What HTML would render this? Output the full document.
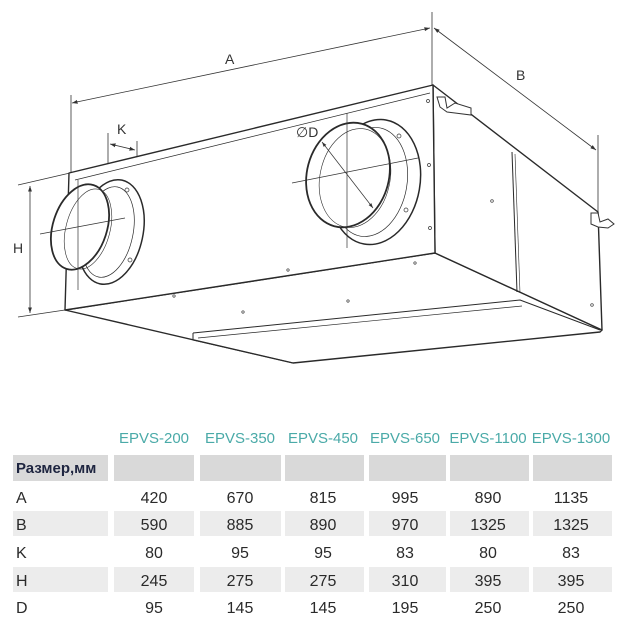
<!DOCTYPE html>
<html><head><meta charset="utf-8"><style>
html,body{margin:0;padding:0;background:#fff;}
svg{display:block;}
text{font-family:"Liberation Sans Narrow","Liberation Sans",sans-serif;}
</style></head><body>
<svg width="630" height="630" viewBox="0 0 630 630" xmlns="http://www.w3.org/2000/svg">
<defs>
<marker id="ar" viewBox="0 0 10 10" refX="10" refY="5" markerWidth="7" markerHeight="7" orient="auto-start-reverse"><path d="M0,1.5 L10,5 L0,8.5 z" fill="#333"/></marker>
</defs>
<g stroke="#333" fill="none" stroke-width="0.8">
<!-- extension lines -->
<line x1="71" y1="95" x2="71" y2="215"/>
<line x1="432" y1="12" x2="432" y2="86"/>
<line x1="598" y1="135" x2="598" y2="230"/>
<line x1="108" y1="133" x2="108" y2="230"/>
<line x1="137" y1="141" x2="137" y2="238"/>
<line x1="18" y1="185" x2="70" y2="173"/>
<line x1="18" y1="317" x2="65" y2="310"/>
<!-- dimension lines -->
<line x1="72" y1="103" x2="430" y2="28" marker-start="url(#ar)" marker-end="url(#ar)"/>
<line x1="434" y1="28" x2="596" y2="150" marker-start="url(#ar)" marker-end="url(#ar)"/>
<line x1="30" y1="186" x2="30" y2="313" marker-start="url(#ar)" marker-end="url(#ar)"/>
<line x1="110" y1="144" x2="135" y2="150" marker-start="url(#ar)" marker-end="url(#ar)"/>
<line x1="322" y1="142" x2="373" y2="208" marker-start="url(#ar)" marker-end="url(#ar)"/>
<line x1="300" y1="140" x2="322" y2="136"/>
</g>
<g stroke="#2a2a2a" fill="#fff" stroke-width="1.4" stroke-linejoin="round">
<!-- bottom plate -->
<path d="M65,310 L293,363 L600,332 L602,330 L435,253 Z" fill="#fff"/>
<path d="M193,333 L520,300 L600,330" fill="none" stroke-width="1"/>
<path d="M193,333 L193,340 L293,363" fill="none" stroke-width="1"/>
<path d="M198,338 L522,306" fill="none" stroke-width="0.7"/>
<!-- right face -->
<path d="M433,85 L598,212 L602,330 L435,253 Z"/>
<line x1="512" y1="152" x2="517" y2="292" stroke-width="1"/>
<line x1="515" y1="154" x2="520" y2="293" stroke-width="0.6"/>
<!-- front face -->
<path d="M69,173 L433,85 L435,253 L65,310 Z"/>
<line x1="75" y1="180" x2="430" y2="93" stroke-width="0.7"/>
</g>
<!-- brackets -->
<g stroke="#333" fill="#fff" stroke-width="1">
<path d="M437,97 L445,97 L447,108 L455,103 L471,108 L471,115 L455,113 L447,112 L440,107 Z"/>
<path d="M591,213 L598,213 L600,222 L608,219 L614,224 L608,228 L598,227 L591,224 Z"/>
</g>
<!-- left spigot -->
<g stroke="#2a2a2a" fill="#fff">
<ellipse cx="111" cy="232" rx="32" ry="53" transform="rotate(12 111 232)" stroke-width="1.5"/>
<ellipse cx="108" cy="232" rx="25" ry="46" transform="rotate(12 108 232)" stroke-width="0.7" fill="none"/>
<ellipse cx="80" cy="227" rx="27" ry="44" transform="rotate(18 80 227)" stroke-width="1.8"/>
<ellipse cx="88" cy="229" rx="22" ry="41" transform="rotate(15 88 229)" stroke-width="0.6" fill="none"/>
</g>
<g stroke="#333" stroke-width="0.7" fill="none">
<line x1="40" y1="234" x2="125" y2="218"/>
<line x1="78" y1="180" x2="78" y2="290"/>
<circle cx="127" cy="190" r="2"/><circle cx="130" cy="260" r="2"/>
</g>
<!-- right spigot -->
<g stroke="#2a2a2a" fill="#fff">
<ellipse cx="375" cy="182" rx="45" ry="63" transform="rotate(10 375 182)" stroke-width="1.5"/>
<ellipse cx="370" cy="182" rx="37" ry="55" transform="rotate(10 370 182)" stroke-width="0.7" fill="none"/>
<ellipse cx="348" cy="175" rx="41" ry="53" transform="rotate(15 348 175)" stroke-width="1.8"/>
<ellipse cx="355" cy="178" rx="35" ry="50" transform="rotate(12 355 178)" stroke-width="0.6" fill="none"/>
</g>
<g stroke="#333" stroke-width="0.7" fill="none">
<line x1="292" y1="183" x2="418" y2="158"/>
<line x1="347" y1="113" x2="347" y2="248"/>
<line x1="322" y1="142" x2="373" y2="208" marker-start="url(#ar)" marker-end="url(#ar)"/>
<circle cx="399" cy="136" r="2"/><circle cx="406" cy="210" r="2"/>
<circle cx="429" cy="165" r="1.5"/><circle cx="430" cy="228" r="1.5"/><circle cx="428" cy="101" r="1.5"/>
<circle cx="492" cy="201" r="1.3"/><circle cx="592" cy="305" r="1.3"/>
<circle cx="174" cy="296" r="1.2"/><circle cx="288" cy="270" r="1.2"/><circle cx="243" cy="312" r="1.2"/><circle cx="348" cy="301" r="1.2"/><circle cx="415" cy="263" r="1.2"/>
</g>
<g fill="#333" font-size="14">
<text x="225" y="64">A</text>
<text x="516" y="80">B</text>
<text x="117" y="134">K</text>
<text x="13" y="253">H</text>
<text x="296" y="137">∅D</text>
</g>
<!-- table -->
<g fill="#d9d9d9">
<rect x="13" y="455" width="95" height="26"/>
<rect x="114" y="455" width="80" height="26"/><rect x="200" y="455" width="81" height="26"/><rect x="285" y="455" width="79" height="26"/><rect x="369" y="455" width="77" height="26"/><rect x="450" y="455" width="79" height="26"/><rect x="533" y="455" width="79" height="26"/>
</g>
<g fill="#ececec">
<rect x="13" y="511" width="95" height="25"/><rect x="114" y="511" width="80" height="25"/><rect x="200" y="511" width="81" height="25"/><rect x="285" y="511" width="79" height="25"/><rect x="369" y="511" width="77" height="25"/><rect x="450" y="511" width="79" height="25"/><rect x="533" y="511" width="79" height="25"/>
<rect x="13" y="567" width="95" height="25"/><rect x="114" y="567" width="80" height="25"/><rect x="200" y="567" width="81" height="25"/><rect x="285" y="567" width="79" height="25"/><rect x="369" y="567" width="77" height="25"/><rect x="450" y="567" width="79" height="25"/><rect x="533" y="567" width="79" height="25"/>
</g>
<g fill="#4aaaa8" font-size="15" text-anchor="middle">
<text x="154" y="443">EPVS-200</text><text x="240" y="443">EPVS-350</text><text x="323" y="443">EPVS-450</text><text x="405" y="443">EPVS-650</text><text x="488" y="443">EPVS-1100</text><text x="571" y="443">EPVS-1300</text>
</g>
<text x="16" y="473" font-size="15" font-weight="bold" fill="#1e2540">Размер,мм</text>
<g fill="#2a2a2a" font-size="16">
<text x="16" y="503">A</text><text x="16" y="530">B</text><text x="16" y="558">K</text><text x="16" y="586">H</text><text x="16" y="613">D</text>
</g>
<g fill="#2a2a2a" font-size="16" text-anchor="middle">
<text x="154" y="503">420</text><text x="240" y="503">670</text><text x="323" y="503">815</text><text x="405" y="503">995</text><text x="488" y="503">890</text><text x="571" y="503">1135</text>
<text x="154" y="530">590</text><text x="240" y="530">885</text><text x="323" y="530">890</text><text x="405" y="530">970</text><text x="488" y="530">1325</text><text x="571" y="530">1325</text>
<text x="154" y="558">80</text><text x="240" y="558">95</text><text x="323" y="558">95</text><text x="405" y="558">83</text><text x="488" y="558">80</text><text x="571" y="558">83</text>
<text x="154" y="586">245</text><text x="240" y="586">275</text><text x="323" y="586">275</text><text x="405" y="586">310</text><text x="488" y="586">395</text><text x="571" y="586">395</text>
<text x="154" y="613">95</text><text x="240" y="613">145</text><text x="323" y="613">145</text><text x="405" y="613">195</text><text x="488" y="613">250</text><text x="571" y="613">250</text>
</g>
</svg>
</body></html>
